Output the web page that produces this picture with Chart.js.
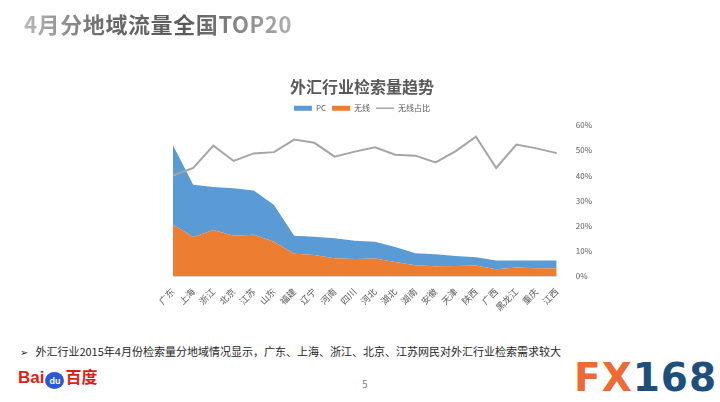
<!DOCTYPE html>
<html lang="zh-CN">
  <head>
    <meta charset="UTF-8" />
    <title>4月分地域流量全国TOP20</title>
    <style>
      body { margin: 0; width: 720px; height: 402px; background: #fff; position: relative; overflow: hidden;
        font-family: "Noto Sans CJK SC", "Noto Sans", sans-serif; }
      #pageTitle { position: absolute; left: 24px; top: 7px; font-size: 22px; font-weight: bold; letter-spacing: 0.6px;
        background: linear-gradient(90deg, #b8b8b8 0%, #6a6a6a 30%, #5a5a5a 60%, #b0b0b0 100%);
        -webkit-background-clip: text; background-clip: text; color: transparent; }
      #box { position: absolute; left: 121px; top: 71px; width: 484px; height: 244px; }
      #note { position: absolute; left: 20px; top: 343px; font-size: 11px; color: #262626; }
      #note .arr { font-family: "DejaVu Sans"; font-size: 10px; margin-right: 7px; }
      #pageNo { position: absolute; left: 362px; top: 376px; font-size: 10px; color: #7f7f7f; }
      #baidu { position: absolute; left: 18px; top: 364px; font-family: Arial, "Liberation Sans"; font-weight: bold;
        font-size: 17px; color: #de1f13; white-space: nowrap; }
      #baidu .paw { display: inline-block; width: 19px; height: 17px; border-radius: 50%; background: #2b58d6; color: #fff;
        font-size: 9px; text-align: center; line-height: 18px; vertical-align: -1px; margin: 0 1px; }
      #baidu .cn { font-family: "Noto Sans CJK SC"; font-size: 16px; }
      #fx { position: absolute; left: 574px; top: 355px; font-family: "DejaVu Sans", sans-serif; font-weight: bold;
        font-size: 39px; letter-spacing: 1px; color: #1d4e7c; }
      #fx .o { color: #ee6a35; }
    </style>
  </head>
  <body>
    <div id="pageTitle">4月分地域流量全国TOP20</div>
    <div id="box"><canvas id="myChart"></canvas></div>
    <div id="note"><span class="arr">➢</span>外汇行业2015年4月份检索量分地域情况显示，广东、上海、浙江、北京、江苏网民对外汇行业检索需求较大</div>
    <div id="pageNo">5</div>
    <div id="baidu">Bai<span class="paw">du</span><span class="cn">百度</span></div>
    <div id="fx"><span class="o">FX</span>168</div>

    <script src="https://cdn.jsdelivr.net/npm/chart.js"></script>
    <script>
      const regions = ["广东", "上海", "浙江", "北京", "江苏", "山东", "福建", "辽宁", "河南", "四川",
        "河北", "湖北", "湖南", "安徽", "天津", "陕西", "广西", "黑龙江", "重庆", "江西"];
      const pc = [31.5, 20.7, 17.1, 18.9, 17.6, 14.6, 7.2, 7.3, 7.9, 7.2,
        6.6, 5.9, 4.7, 4.7, 4.0, 3.3, 3.5, 2.8, 3.1, 3.2];
      const wireless = [20.5, 15.6, 18.4, 16.1, 16.5, 13.7, 8.9, 8.4, 7.2, 6.9,
        7.1, 5.7, 4.4, 4.0, 4.1, 4.3, 2.8, 3.5, 3.2, 3.1];
      const wirelessShare = [40.0, 43.0, 51.9, 45.8, 48.8, 49.3, 54.3, 53.0, 47.5, 49.5,
        51.2, 48.3, 47.9, 45.2, 49.7, 55.4, 43.0, 52.3, 50.8, 48.9];

      // a little more room under the legend
      const legendGap = {
        id: "legendGap",
        beforeInit(chart) {
          const fit = chart.legend.fit;
          chart.legend.fit = function () {
            fit.call(this);
            this.height += 3;
          };
        },
      };

      const ctx = document.getElementById("myChart");
      new Chart(ctx, {
        type: "line",
        data: {
          labels: regions,
          datasets: [
            {
              label: "PC",
              data: pc,
              order: 2,
              yAxisID: "y",
              fill: "+1",
              backgroundColor: "#5b9bd5",
              borderWidth: 0,
              pointRadius: 0,
              pointStyle: "rect",
              tension: 0,
            },
            {
              label: "无线",
              data: wireless,
              order: 1,
              yAxisID: "y",
              fill: "origin",
              backgroundColor: "#ed7d31",
              borderWidth: 0,
              pointRadius: 0,
              pointStyle: "rect",
              tension: 0,
            },
            {
              label: "无线占比",
              data: wirelessShare,
              order: 0,
              yAxisID: "y1",
              fill: false,
              borderColor: "#a5a5a5",
              backgroundColor: "#a5a5a5",
              borderWidth: 2,
              pointRadius: 0,
              pointStyle: "line",
              pointBorderWidth: 1.5,
              tension: 0,
            },
          ],
        },
        options: {
          responsive: true,
          maintainAspectRatio: false,
          animation: false,
          layout: { padding: { left: 0, right: 2, bottom: 0 } },
          plugins: {
            title: {
              display: true,
              text: "外汇行业检索量趋势",
              color: "#595959",
              font: { family: "Noto Sans CJK SC", size: 16, weight: "bold" },
              padding: { top: 6, bottom: 2 },
            },
            legend: {
              labels: {
                usePointStyle: true,
                pointStyleWidth: 18,
                boxHeight: 5,
                color: "#595959",
                padding: 6,
                font: { family: "Noto Sans CJK SC", size: 8 },
                sort: (a, b) => a.datasetIndex - b.datasetIndex,
              },
            },
            tooltip: { enabled: false },
          },
          scales: {
            x: {
              grid: { display: false },
              border: { color: "#d9d9d9" },
              ticks: {
                color: "#595959",
                minRotation: 45,
                maxRotation: 45,
                padding: 2,
                font: { family: "Noto Sans CJK SC", size: 9 },
              },
            },
            y: {
              // hidden value axis; only keeps the space on the left
              stacked: true,
              min: 0,
              max: 60,
              grid: { display: false },
              border: { display: false },
              ticks: { display: false },
              afterFit: (scale) => {
                scale.width = 52;
              },
            },
            y1: {
              position: "right",
              min: 0,
              max: 60,
              grid: { display: false },
              border: { display: false },
              ticks: {
                stepSize: 10,
                padding: 11,
                color: "#595959",
                font: { family: "Noto Sans CJK SC", size: 8 },
                callback: (v) => v + "%",
              },
            },
          },
        },
        plugins: [legendGap],
      });
    </script>
  </body>
</html>
